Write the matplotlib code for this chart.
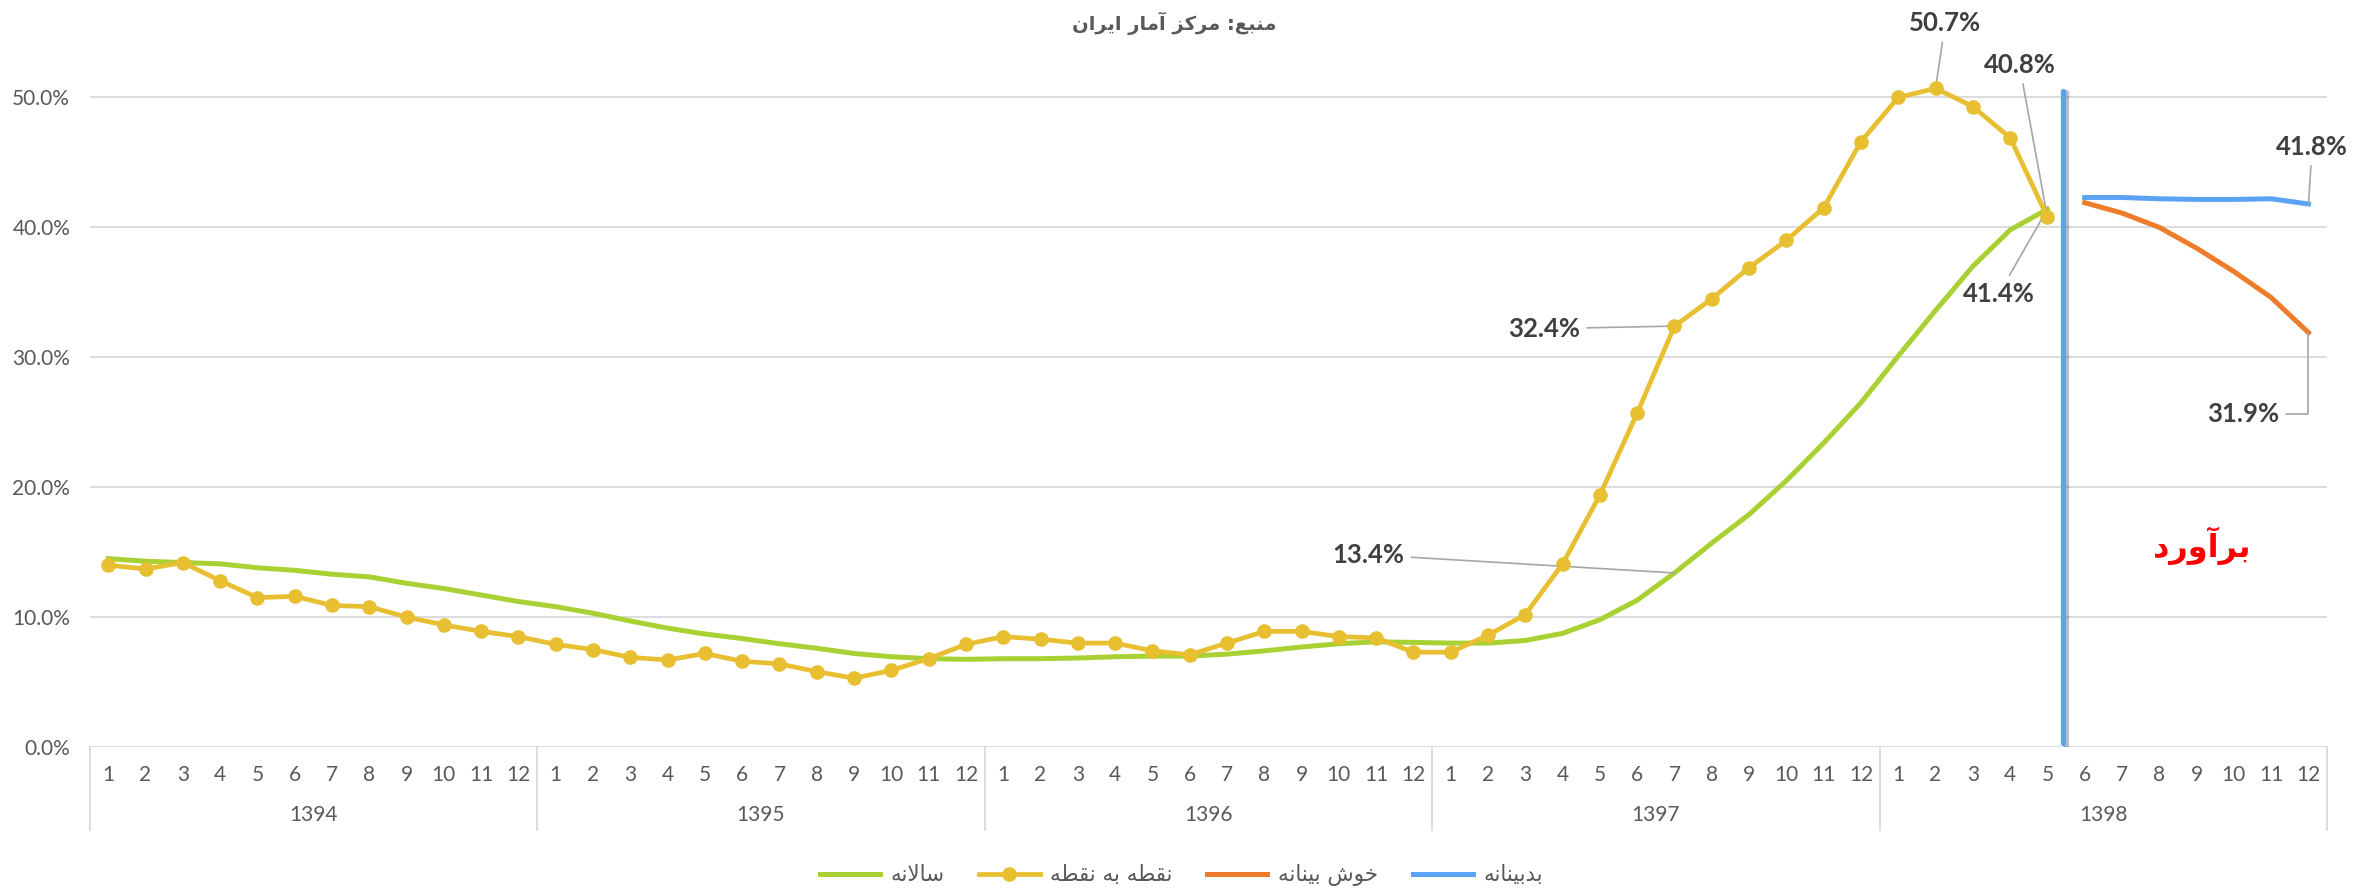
import matplotlib
matplotlib.use("Agg")
import matplotlib.pyplot as plt
import matplotlib.patheffects as pe
from matplotlib.lines import Line2D

# Persian letters -> presentation forms (isolated, final, initial, medial)
FORMS = {
    'ا': ('\uFE8D', '\uFE8E', None, None),
    'آ': ('\uFE81', '\uFE82', None, None),
    'ب': ('\uFE8F', '\uFE90', '\uFE91', '\uFE92'),
    'خ': ('\uFEA5', '\uFEA6', '\uFEA7', '\uFEA8'),
    'د': ('\uFEA9', '\uFEAA', None, None),
    'ر': ('\uFEAD', '\uFEAE', None, None),
    'ز': ('\uFEAF', '\uFEB0', None, None),
    'س': ('\uFEB1', '\uFEB2', '\uFEB3', '\uFEB4'),
    'ش': ('\uFEB5', '\uFEB6', '\uFEB7', '\uFEB8'),
    'ط': ('\uFEC1', '\uFEC2', '\uFEC3', '\uFEC4'),
    'ع': ('\uFEC9', '\uFECA', '\uFECB', '\uFECC'),
    'ق': ('\uFED5', '\uFED6', '\uFED7', '\uFED8'),
    'ک': ('\uFB8E', '\uFB8F', '\uFB90', '\uFB91'),
    'ل': ('\uFEDD', '\uFEDE', '\uFEDF', '\uFEE0'),
    'م': ('\uFEE1', '\uFEE2', '\uFEE3', '\uFEE4'),
    'ن': ('\uFEE5', '\uFEE6', '\uFEE7', '\uFEE8'),
    'ه': ('\uFEE9', '\uFEEA', '\uFEEB', '\uFEEC'),
    'و': ('\uFEED', '\uFEEE', None, None),
    'ی': ('\uFBFC', '\uFBFD', '\uFBFE', '\uFBFF'),
}
LAM_ALEF = {'ا': ('\uFEFB', '\uFEFC'), 'آ': ('\uFEF5', '\uFEF6')}


def fa(text):
    out = []
    i = 0
    n = len(text)
    while i < n:
        c = text[i]
        if c not in FORMS:
            out.append(c)
            i += 1
            continue
        prev = text[i - 1] if i > 0 else ''
        join_prev = prev in FORMS and FORMS[prev][2] is not None
        if c == 'ل' and i + 1 < n and text[i + 1] in LAM_ALEF:
            lig = LAM_ALEF[text[i + 1]]
            out.append(lig[1] if join_prev else lig[0])
            i += 2
            continue
        nxt = text[i + 1] if i + 1 < n else ''
        join_next = nxt in FORMS and FORMS[c][2] is not None
        f = FORMS[c]
        if join_prev and join_next:
            out.append(f[3])
        elif join_prev:
            out.append(f[1])
        elif join_next:
            out.append(f[2])
        else:
            out.append(f[0])
        i += 1
    return ''.join(out)[::-1]


years = ['1394', '1395', '1396', '1397', '1398']
months = [str(m) for m in range(1, 13)]

# percent values, 1394/1 .. 1398/5
point_to_point = [14.0, 13.7, 14.2, 12.8, 11.5, 11.6, 10.9, 10.8, 10.0, 9.4, 8.9, 8.5,
                  7.9, 7.5, 6.9, 6.7, 7.2, 6.6, 6.4, 5.8, 5.3, 5.9, 6.8, 7.9,
                  8.5, 8.3, 8.0, 8.0, 7.4, 7.1, 8.0, 8.9, 8.9, 8.5, 8.4, 7.3,
                  7.3, 8.6, 10.2, 14.1, 19.4, 25.7, 32.4, 34.5, 36.9, 39.0, 41.5, 46.6,
                  50.0, 50.7, 49.3, 46.9, 40.8]
annual = [14.5, 14.3, 14.2, 14.1, 13.8, 13.6, 13.3, 13.1, 12.6, 12.2, 11.7, 11.2,
          10.8, 10.3, 9.7, 9.15, 8.7, 8.35, 7.95, 7.6, 7.2, 6.95, 6.8, 6.75,
          6.8, 6.8, 6.85, 6.95, 7.0, 7.0, 7.15, 7.4, 7.7, 7.95, 8.1, 8.05,
          8.0, 8.0, 8.2, 8.75, 9.8, 11.3, 13.4, 15.7, 17.9, 20.5, 23.4, 26.5,
          30.1, 33.6, 37.0, 39.8, 41.4]
# forecasts, 1398/6 .. 1398/12
optimistic = [41.9, 41.1, 40.0, 38.4, 36.6, 34.6, 31.9]
pessimistic = [42.3, 42.3, 42.2, 42.15, 42.15, 42.2, 41.8]

GREEN = '#a9d134'
YELLOW = '#e7bf31'
ORANGE = '#ed7d2b'
BLUE = '#5ba3f2'
GRID = '#d9d9d9'

plt.rcParams['font.family'] = ['Lato', 'DejaVu Sans']


def main():
    fig = plt.figure(figsize=(23.77, 8.94), dpi=100)
    ax = fig.add_axes([0.0377, 0.1644, 0.9413, 0.8356])

    x_hist = list(range(len(annual)))
    x_fore = list(range(len(annual), len(annual) + len(optimistic)))

    ax.plot(x_hist, [v / 100 for v in annual], color=GREEN, lw=3.6, zorder=3)
    ax.plot(x_hist, [v / 100 for v in point_to_point], color=YELLOW, lw=3.4,
            marker='o', markersize=9.5, zorder=4)
    ax.plot(x_fore, [v / 100 for v in optimistic], color=ORANGE, lw=3.6, zorder=3)
    ax.plot(x_fore, [v / 100 for v in pessimistic], color=BLUE, lw=3.6, zorder=3)

    # divider between actual and forecast
    ax.plot([52.43, 52.43], [0.003, 0.505], color=BLUE, lw=3.8, zorder=5,
            solid_capstyle='round',
            path_effects=[pe.SimpleLineShadow(offset=(2, -1), alpha=0.25), pe.Normal()])

    ax.set_xlim(-0.5, 59.5)
    ax.set_ylim(0, 0.575)
    ax.set_yticks([0, 0.1, 0.2, 0.3, 0.4, 0.5])
    ax.set_yticklabels(['0.0%', '10.0%', '20.0%', '30.0%', '40.0%', '50.0%'])
    ax.yaxis.grid(True, color=GRID, lw=1.3)
    ax.set_axisbelow(True)
    for s in ax.spines.values():
        s.set_visible(False)

    ax.set_xticks(range(60))
    ax.set_xticklabels(months * len(years))
    ax.tick_params(axis='x', length=0, pad=13, labelsize=15, labelcolor='#595959')
    ax.tick_params(axis='y', length=0, pad=14, labelsize=15, labelcolor='#595959')

    # two-level category axis
    xt = ax.get_xaxis_transform()
    for k in range(len(years) + 1):
        xs = k * 12 - 0.5
        ax.plot([xs, xs], [0, -0.111], transform=xt, color=GRID, lw=1.3, clip_on=False)
    for k, y in enumerate(years):
        ax.text(k * 12 + 5.5, -0.091, y, transform=xt, ha='center', va='center',
                fontsize=15, color='#595959')

    # data labels
    lab = dict(fontsize=18.5, fontweight='bold', color='#404040', ha='center', va='center',
               annotation_clip=False)
    lead = dict(arrowstyle='-', color='#a6a6a6', lw=1.2, shrinkA=3, shrinkB=0)
    ax.annotate('50.7%', xy=(49, 0.507), xytext=(49.26, 0.557), arrowprops=lead, **lab)
    ax.annotate('40.8%', xy=(52, 0.408), xytext=(51.25, 0.525), arrowprops=lead, **lab)
    ax.annotate('41.4%', xy=(52, 0.414), xytext=(50.7, 0.349), arrowprops=lead, **lab)
    ax.annotate('32.4%', xy=(42, 0.324), xytext=(38.5, 0.322), arrowprops=lead, **lab)
    ax.annotate('13.4%', xy=(42, 0.134), xytext=(33.8, 0.148), arrowprops=lead, **lab)
    ax.annotate('41.8%', xy=(59, 0.418), xytext=(59.1, 0.462), arrowprops=lead, **lab)
    ax.annotate('31.9%', xy=(59, 0.319), xytext=(57.25, 0.256),
                arrowprops=dict(lead, connectionstyle='angle,angleA=0,angleB=90,rad=0'),
                **lab)

    ax.text(56.13, 0.155, fa('برآورد'), color='#ff0000', fontsize=23, fontweight='bold',
            ha='center', va='center', family=['DejaVu Sans'])

    fig.text(0.494, 0.974, fa('منبع: مرکز آمار ایران'), ha='center', va='center',
             fontsize=14, fontweight='bold', color='#595959', family=['DejaVu Sans'])

    handles = [
        Line2D([], [], color=GREEN, lw=3.6),
        Line2D([], [], color=YELLOW, lw=3.4, marker='o', markersize=9.5),
        Line2D([], [], color=ORANGE, lw=3.6),
        Line2D([], [], color=BLUE, lw=3.6),
    ]
    names = [fa('سالانه'), fa('نقطه به نقطه'), fa('خوش بینانه'), fa('بدبینانه')]
    leg = fig.legend(handles, names, loc='center', bbox_to_anchor=(0.497, 0.021), ncol=4,
                     frameon=False, fontsize=15.5, handlelength=2.8, columnspacing=1.6,
                     handletextpad=0.5)
    for t in leg.get_texts():
        t.set_color('#595959')
        t.set_family(['DejaVu Sans'])

    fig.savefig('out.png', dpi=100)


if __name__ == "__main__":
    main()
